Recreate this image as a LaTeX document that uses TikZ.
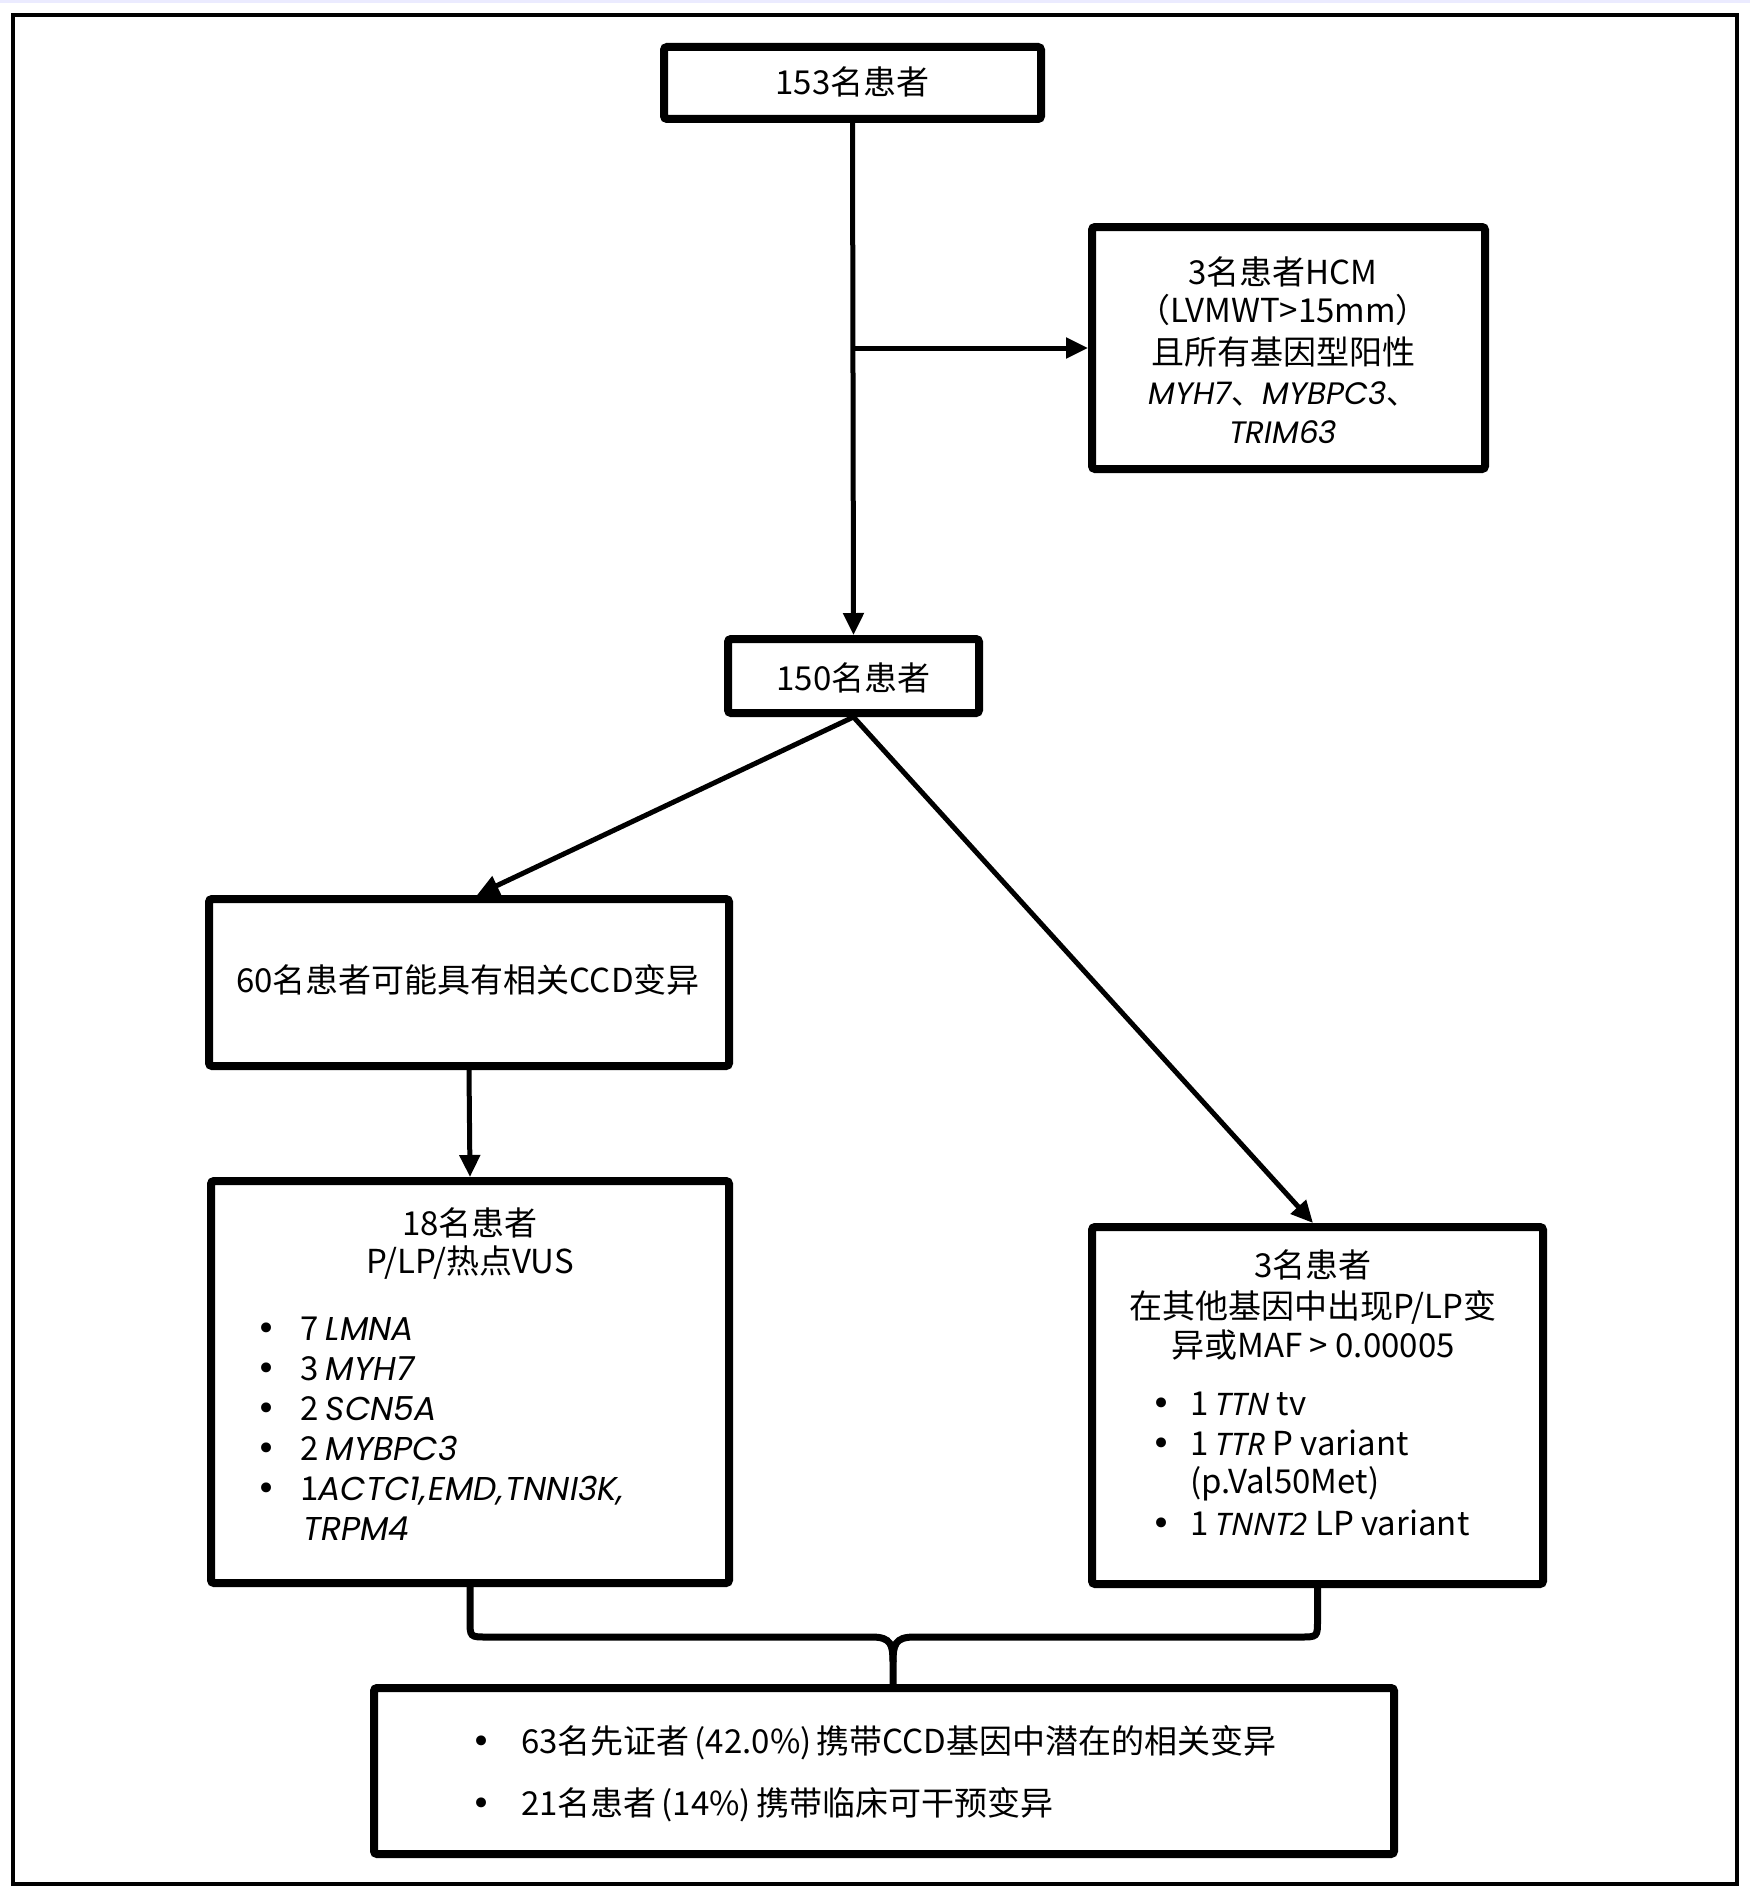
\documentclass[tikz,border=0pt]{standalone}
\usepackage{fontspec}
\setmainfont{Noto Sans CJK SC}
\newfontfamily\genea{Poppins}
\newfontfamily\geneb{Noto Sans}
\newfontfamily\bulfont{DejaVu Sans}
\usetikzlibrary{arrows.meta}
\newcommand{\ga}[1]{{\genea\itshape\fontsize{33}{40}\selectfont #1}}
\newcommand{\gs}[1]{{\genea\itshape\fontsize{31}{38}\selectfont #1}}
\newcommand{\gb}[1]{{\geneb\itshape\fontsize{31}{40}\selectfont #1}}
\begin{document}
\begin{tikzpicture}[x=1pt,y=-1pt,
  boxnode/.style={draw,line width=8pt,fill=white,rounded corners=3pt,inner sep=0pt,outer sep=4pt},
  conn/.style={line width=5pt,-{Triangle[length=22pt,width=20pt]}},
  bracepath/.style={line width=7pt},
  txt/.style={inner sep=0pt,anchor=base,font=\fontsize{33}{40}\selectfont},
  ltxt/.style={txt,anchor=base west},
  bul/.style={inner sep=0pt,anchor=base,font=\bulfont\fontsize{34}{40}\selectfont},
]
\useasboundingbox (0,0) rectangle (1750,1892);
\fill[white] (0,0) rectangle (1750,1892);
\fill[blue!8!white] (0,0) rectangle (1750,3);
\draw[line width=4pt] (13,15) rectangle (1737,1884);

% boxes
\node[boxnode,minimum width=377pt,minimum height=72pt] (b1) at (852.5,83) {};
\node[boxnode,minimum width=251pt,minimum height=74pt] (b150) at (853.5,676) {};
\node[boxnode,minimum width=393pt,minimum height=242pt] (hcm) at (1288.5,348) {};
\node[boxnode,minimum width=520pt,minimum height=167pt] (b60) at (469,982.5) {};
\node[boxnode,minimum width=518pt,minimum height=402pt] (b18) at (470,1382) {};
\node[boxnode,minimum width=451pt,minimum height=357pt] (b3) at (1317.5,1405.5) {};
\node[boxnode,minimum width=1020pt,minimum height=166pt] (bb) at (884,1771) {};

% connectors
\coordinate (j1) at (853,348);
\draw[conn] (b1.south) -- (b150.north);
\draw[conn] (j1) -- (hcm.west);
\draw[conn] (b150.south) -- ([xshift=272pt]b60.north west);
\draw[conn] (b150.south) -- ([xshift=225pt]b3.north west);
\draw[conn] (b60.south) -- (b18.north);

% brace
\coordinate (cusp) at ([xshift=523pt]bb.north west);
\draw[bracepath] (b18.south) -- (470,1620) .. controls (470,1637) .. (487,1637) -- (872,1637)
  .. controls (891,1637) and (893,1645) .. (893,1662) -- (cusp);
\draw[bracepath] (b3.south) -- (1317.5,1620) .. controls (1317.5,1637) .. (1300,1637) -- (914,1637)
  .. controls (895,1637) and (893,1645) .. (893,1662);

% texts
\node[txt] (t1) at (852.5,95) {153名患者};
\node[txt] (t150) at (853.5,690) {150名患者};
\node[txt] (h1) at (1283,284) {3名患者HCM};
\node[txt] (h2) at (1283,322) {（LVMWT>15mm）};
\node[txt] (h3) at (1283,364) {且所有基因型阳性};
\node[txt,font=\fontsize{31}{38}\selectfont] (h4) at (1283,404) {\gs{MYH7}、\gs{MYBPC3}、};
\node[txt,font=\fontsize{31}{38}\selectfont] (h5) at (1283,443) {\gs{TRIM63}};
\node[txt] (t60) at (468,992) {60名患者可能具有相关CCD变异};

\node[txt] (a1) at (470,1235) {18名患者};
\node[txt] (a2) at (470,1273) {P/LP/热点VUS};
\node[bul] (ab1) at (267,1340) {•};
\node[bul] (ab2) at (267,1380) {•};
\node[bul] (ab3) at (267,1420) {•};
\node[bul] (ab4) at (267,1460) {•};
\node[bul] (ab5) at (267,1500) {•};
\node[ltxt] (ai1) at (300,1340) {7 \ga{LMNA}};
\node[ltxt] (ai2) at (300,1380) {3 \ga{MYH7}};
\node[ltxt] (ai3) at (300,1420) {2 \ga{SCN5A}};
\node[ltxt] (ai4) at (300,1460) {2 \ga{MYBPC3}};
\node[ltxt] (ai5) at (300,1500) {1\ga{ACTC1,\hspace{2pt}EMD,\hspace{2pt}TNNI3K,}};
\node[ltxt] (ai6) at (303,1540) {\ga{TRPM4}};

\node[txt] (c1) at (1313,1277) {3名患者};
\node[txt] (c2) at (1313,1318) {在其他基因中出现P/LP变};
\node[txt] (c3) at (1313,1357) {异或MAF > 0.00005};
\node[bul] (cb1) at (1162,1415) {•};
\node[bul] (cb2) at (1162,1455) {•};
\node[bul] (cb3) at (1162,1535) {•};
\node[ltxt] (ci1) at (1190,1415) {1 \gb{TTN} tv};
\node[ltxt] (ci2) at (1190,1455) {1 \gb{TTR} P variant};
\node[ltxt] (ci3) at (1190,1493) {(p.Val50Met)};
\node[ltxt] (ci4) at (1190,1535) {1 \gb{TNNT2} LP variant};

\node[bul] (db1) at (482,1753) {•};
\node[bul] (db2) at (482,1815) {•};
\node[ltxt] (d1) at (521,1753) {63名先证者\hspace{5pt}(42.0\%)\hspace{5pt}携带CCD基因中潜在的相关变异};
\node[ltxt] (d2) at (521,1815) {21名患者\hspace{5pt}(14\%)\hspace{5pt}携带临床可干预变异};
\end{tikzpicture}
\end{document}
